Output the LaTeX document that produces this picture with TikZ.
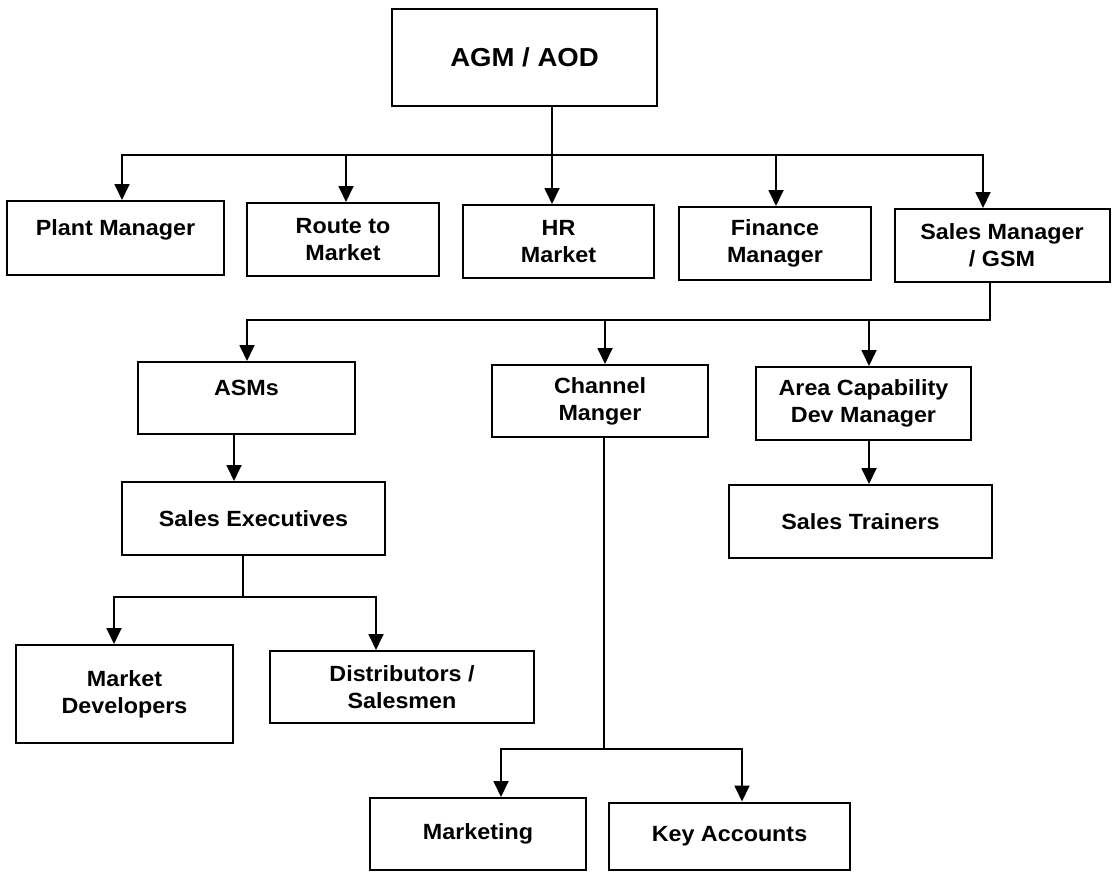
\documentclass[tikz,border=0pt]{standalone}
\usepackage{fontspec}
\setmainfont{Liberation Sans}[FakeStretch=1.06]
\usetikzlibrary{arrows.meta}
\begin{document}
\begin{tikzpicture}[x=1pt,y=-1pt,
  box/.style={draw=black, line width=2pt, inner sep=0pt, align=center, font=\bfseries\fontsize{22}{27}\selectfont},
  line/.style={line width=1.8pt, line cap=rect},
  arr/.style={line width=1.8pt, line cap=rect, -{Triangle[length=16pt,width=15pt]}}]
\useasboundingbox (0,0) rectangle (1113,872);

\node[box, minimum width=265pt, minimum height=97pt, font=\bfseries\fontsize{26}{30}\selectfont] (agm) at (524.5,57.5) {AGM / AOD};
\node[box, minimum width=217pt, minimum height=74pt] (plant) at (115.5,238) {Plant Manager\\[-7pt]\mbox{}};
\node[box, minimum width=192pt, minimum height=73pt] (route) at (343,239.5) {Route to\\Market};
\node[box, minimum width=191pt, minimum height=73pt] (hr) at (558.5,241.5) {HR\\Market};
\node[box, minimum width=192pt, minimum height=73pt] (fin) at (775,243.5) {Finance\\Manager};
\node[box, minimum width=215pt, minimum height=73pt] (sales) at (1002,245.5) {Sales Manager\\/ GSM};
\node[box, minimum width=217pt, minimum height=72pt] (asm) at (246.5,398) {ASMs\\[-7pt]\mbox{}};
\node[box, minimum width=216pt, minimum height=72pt] (chan) at (600,401) {Channel\\Manger};
\node[box, minimum width=215pt, minimum height=73pt] (area) at (863.5,403.5) {Area Capability\\Dev Manager};
\node[box, minimum width=263pt, minimum height=73pt] (sexec) at (253.5,518.5) {Sales Executives};
\node[box, minimum width=263pt, minimum height=73pt] (strain) at (860.5,521.5) {Sales Trainers};
\node[box, minimum width=217pt, minimum height=98pt] (mdev) at (124.5,694) {Market\\Developers};
\node[box, minimum width=264pt, minimum height=72pt] (dist) at (402,687) {Distributors /\\Salesmen};
\node[box, minimum width=216pt, minimum height=72pt] (mkt) at (478,834) {Marketing};
\node[box, minimum width=241pt, minimum height=67pt] (key) at (729.5,836) {Key Accounts};

% level 1
\coordinate (t1) at (122,155);
\coordinate (t2) at (346,155);
\coordinate (t3) at (552,155);
\coordinate (t4) at (776,155);
\coordinate (t5) at (983,155);
\draw[line] (agm.south -| t3) -- (t3);
\draw[line] (t1) -- (t5);
\foreach \c/\n in {t1/plant, t2/route, t3/hr, t4/fin, t5/sales}
  \draw[arr] (\c) -- (\c |- \n.north);

% level 2
\coordinate (u0) at (990,320);
\coordinate (u1) at (247,320);
\coordinate (u2) at (605,320);
\coordinate (u3) at (869,320);
\draw[line] (sales.south -| u0) -- (u0) -- (u1);
\foreach \c/\n in {u1/asm, u2/chan, u3/area}
  \draw[arr] (\c) -- (\c |- \n.north);

% ASMs -> Sales Executives, Area -> Trainers
\coordinate (v1) at (234,460);
\coordinate (v2) at (869,463);
\draw[arr] (asm.south -| v1) -- (sexec.north -| v1);
\draw[arr] (area.south -| v2) -- (strain.north -| v2);

% Sales Executives children
\coordinate (w0) at (243,597);
\coordinate (w1) at (114,597);
\coordinate (w2) at (376,597);
\draw[line] (sexec.south -| w0) -- (w0);
\draw[line] (w1) -- (w2);
\draw[arr] (w1) -- (w1 |- mdev.north);
\draw[arr] (w2) -- (w2 |- dist.north);

% Channel children
\coordinate (z0) at (604,749);
\coordinate (z1) at (501,749);
\coordinate (z2) at (742,749);
\draw[line] (chan.south -| z0) -- (z0);
\draw[line] (z1) -- (z2);
\draw[arr] (z1) -- (z1 |- mkt.north);
\draw[arr] (z2) -- (z2 |- key.north);
\end{tikzpicture}
\end{document}
